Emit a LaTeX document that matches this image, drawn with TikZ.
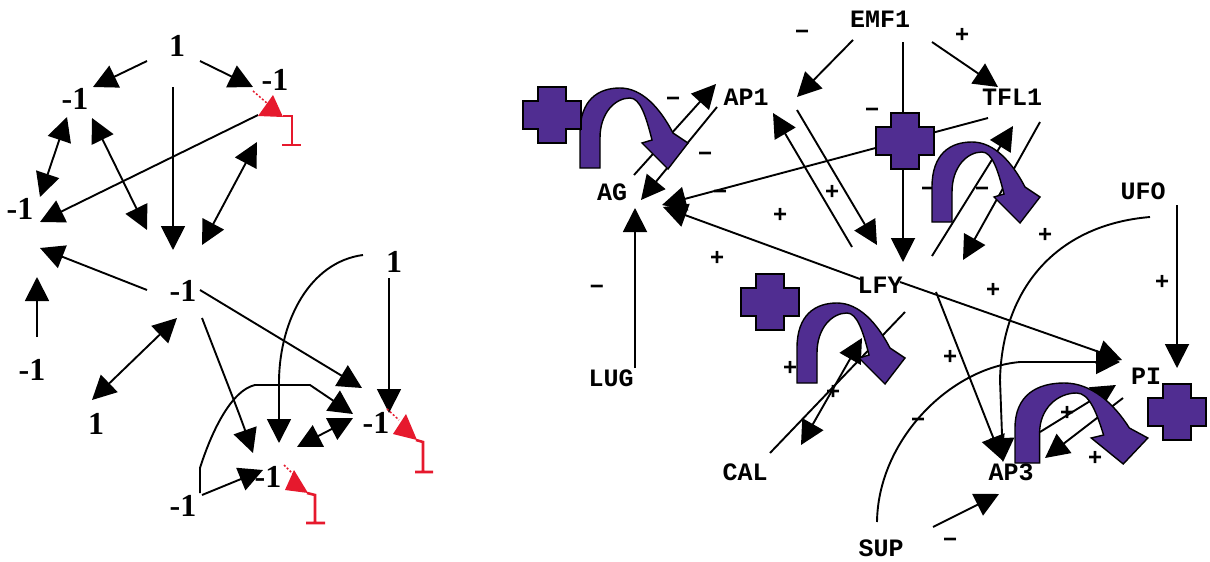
\documentclass[tikz,border=0pt]{standalone}
\usepackage{fontspec}
\setmainfont{Liberation Serif}
\newfontfamily\monof{Liberation Mono}
\newfontfamily\sansf{Liberation Sans}
\usetikzlibrary{arrows.meta}
\definecolor{upurple}{RGB}{80,45,145}
\definecolor{ured}{RGB}{230,25,45}
\tikzset{
  tri/.tip={Triangle[length=24pt,width=24pt]},
  num/.style={font=\fontsize{32}{32}\selectfont\bfseries, inner sep=0pt},
  gene/.style={font=\monof\bfseries\fontsize{25}{25}\selectfont, inner sep=0pt},
  sgn/.style={font=\sansf\bfseries\fontsize{24}{24}\selectfont, inner sep=0pt},
  ln/.style={line width=1.9pt, black},
  ar/.style={ln, -{tri}},
  dar/.style={ln, {tri}-{tri}},
  redpart/.style={ured, line width=2.6pt},
  redlead/.style={ured, line width=1.5pt, dash pattern=on 2pt off 2pt},
  uturn/.pic={
    \filldraw[fill=upurple, draw=black, line width=1.4pt]
      (0,80) -- (0,45) .. controls (0,12) and (18,0) .. (40,0)
      .. controls (62,0) and (80,20) .. (93,45) -- (108,55) -- (88,81)
      -- (62,55) -- (72,52) .. controls (66,28) and (60,10) .. (50,10)
      .. controls (35,10) and (20,25) .. (20,50) -- (20,80) -- cycle;
  },
  uplus/.pic={
    \filldraw[fill=upurple, draw=black, line width=1.4pt]
      (-14,-28) -- (14,-28) -- (14,-14) -- (29,-14) -- (29,14) -- (14,14)
      -- (14,28) -- (-14,28) -- (-14,14) -- (-29,14) -- (-29,-14)
      -- (-14,-14) -- cycle;
  }
}
\begin{document}
\begin{tikzpicture}[x=1pt,y=-1pt]
\fill[white] (0,0) rectangle (1210,562);
\useasboundingbox (0,0) rectangle (1210,562);

% ---------------- left network: labels
\node[num] (Ltop) at (177,46) {1};
\node[num] (LTR) at (275,80) {-1};
\node[num] (LUL) at (75,99) {-1};
\node[num] (LL) at (20,209) {-1};
\node[num] (LC) at (183,291) {-1};
\node[num] (LBL) at (32,370) {-1};
\node[num] (L1b) at (96,424) {1};
\node[num] (LR1) at (394,262) {1};
\node[num] (LRm) at (376,423) {-1};
\node[num] (LBC) at (268,477) {-1};
\node[num] (LBB) at (183,506) {-1};

% endpoints
\coordinate (ca0) at (147,61);  \coordinate (ca1) at (93,87);
\coordinate (cb0) at (200,61);  \coordinate (cb1) at (253,87);
\coordinate (cc0) at (173,87);  \coordinate (cc1) at (173,250);
\coordinate (cd0) at (258,115); \coordinate (cd1) at (40,222);
\coordinate (ce0) at (67,117);  \coordinate (ce1) at (40,197);
\coordinate (cf0) at (92,118);  \coordinate (cf1) at (147,230);
\coordinate (cg0) at (257,142); \coordinate (cg1) at (202,245);
\coordinate (ch0) at (147,290); \coordinate (ch1) at (40,248);
\coordinate (ci0) at (37,337);  \coordinate (ci1) at (37,277);
\coordinate (cj0) at (177,318); \coordinate (cj1) at (92,400);
\coordinate (ck0) at (200,290); \coordinate (ck1) at (362,388);
\coordinate (cl0) at (202,318); \coordinate (cl1) at (253,453);
\coordinate (cm0) at (363,255); \coordinate (cm1) at (279,443);
\coordinate (cn0) at (389,278); \coordinate (cn1) at (389,413);
\coordinate (co0) at (200,493); \coordinate (co1) at (353,414);
\coordinate (cp0) at (353,418); \coordinate (cp1) at (297,447);
\coordinate (cq0) at (202,495); \coordinate (cq1) at (263,470);

\draw[ar] (ca0) -- (ca1);
\draw[ar] (cb0) -- (cb1);
\draw[ar] (cc0) -- (cc1);
\draw[ar] (cd0) -- (cd1);
\draw[dar] (ce0) -- (ce1);
\draw[dar] (cf0) -- (cf1);
\draw[dar] (cg0) -- (cg1);
\draw[ar] (ch0) -- (ch1);
\draw[ar] (ci0) -- (ci1);
\draw[dar] (cj0) -- (cj1);
\draw[ar] (ck0) -- (ck1);
\draw[ar] (cl0) .. controls (222,370) and (238,410) .. (cl1);
\draw[ar] (cm0) .. controls (310,262) and (280,320) .. (279,380) -- (cm1);
\draw[ar] (cn0) -- (cn1);
\draw[ar] (co0) -- (200,468) .. controls (212,430) and (232,390) .. (255,385)
   -- (310,385) -- (co1);
\draw[dar] (cp0) -- (cp1);
\draw[ar] (cq0) -- (cq1);

% red inhibitor marks
\draw[redlead] (253,91) -- (268,104);
\fill[ured] (273,95) -- (258,116) -- (283,117) -- cycle;
\draw[redpart] (283,116) -- (292,116) -- (292,145) (282,145) -- (301,145);
\draw[redlead] (387,409) -- (399,420);
\fill[ured] (406,414) -- (393,434) -- (417,440) -- cycle;
\draw[redpart] (416,440) -- (423,442) -- (423,472) (415,472) -- (433,472);
\draw[redlead] (284,465) -- (293,474);
\fill[ured] (294,470) -- (285,490) -- (308,493) -- cycle;
\draw[redpart] (307,493) -- (315,495) -- (315,523) (306,523) -- (325,523);

% ---------------- right network: labels
\node[gene] (EMF) at (880,19) {EMF1};
\node[gene] (AP1) at (746,97) {AP1};
\node[gene] (TFL) at (1012,97) {TFL1};
\node[gene] (AG) at (612,192) {AG};
\node[gene] (UFO) at (1143,191) {UFO};
\node[gene] (LFY) at (880,285) {LFY};
\node[gene] (LUG) at (611,378) {LUG};
\node[gene] (PI) at (1146,376) {PI};
\node[gene] (CAL) at (745,472) {CAL};
\node[gene] (AP3) at (1011,472) {AP3};
\node[gene] (SUP) at (881,548) {SUP};

\coordinate (r1a) at (853,40);   \coordinate (r1b) at (797,97);
\coordinate (r2a) at (932,42);   \coordinate (r2b) at (998,87);
\coordinate (r3a) at (903,42);   \coordinate (r3b) at (903,262);
\coordinate (r4a) at (852,247);  \coordinate (r4b) at (773,113);
\coordinate (r5a) at (797,110);  \coordinate (r5b) at (877,245);
\coordinate (r6a) at (634,175);  \coordinate (r6b) at (716,84);
\coordinate (r7a) at (717,107);  \coordinate (r7b) at (641,200);
\coordinate (r8a) at (988,118);  \coordinate (r8b) at (662,205);
\coordinate (r9a) at (860,279);  \coordinate (r9b) at (663,207);
\coordinate (r10a) at (635,368); \coordinate (r10b) at (635,208);
\coordinate (r11a) at (900,282); \coordinate (r11b) at (1122,360);
\coordinate (r12a) at (1040,122);\coordinate (r12b) at (963,260);
\coordinate (r13a) at (932,256); \coordinate (r13b) at (1013,126);
\coordinate (r14a) at (1177,205);\coordinate (r14b) at (1177,368);
\coordinate (r15a) at (1150,217);\coordinate (r15b) at (1003,462);
\coordinate (r16a) at (936,292); \coordinate (r16b) at (1002,460);
\coordinate (r17a) at (877,522); \coordinate (r17b) at (1120,362);
\coordinate (r18a) at (933,527); \coordinate (r18b) at (999,494);
\coordinate (r19a) at (770,453); \coordinate (r19b) at (905,312);
\coordinate (r20a) at (862,338); \coordinate (r20b) at (801,445);
\coordinate (r21a) at (1123,398);\coordinate (r21b) at (1045,458);
\coordinate (r22a) at (1040,432);\coordinate (r22b) at (1116,385);

\draw[ar] (r1a) -- (r1b);
\draw[ar] (r2a) -- (r2b);
\draw[ar] (r3a) -- (r3b);
\draw[ar] (r4a) -- (r4b);
\draw[ar] (r5a) -- (r5b);
\draw[ar] (r6a) -- (r6b);
\draw[ar] (r7a) -- (r7b);
\draw[ar] (r8a) -- (r8b);
\draw[ar] (r9a) -- (r9b);
\draw[ar] (r10a) -- (r10b);
\draw[ar] (r11a) -- (r11b);
\draw[ar] (r12a) -- (r12b);
\draw[ar] (r13a) -- (r13b);
\draw[ar] (r14a) -- (r14b);
\draw[ar] (r15a) .. controls (1055,225) and (1002,290) .. (1000,380) -- (r15b);
\draw[ar] (r16a) -- (r16b);
\draw[ar] (r17a) .. controls (878,440) and (950,368) .. (1020,362) -- (r17b);
\draw[ar] (r18a) -- (r18b);
\draw[ln] (r19a) -- (r19b);
\draw[dar] (r20a) -- (r20b);
\draw[ar] (r21a) -- (r21b);
\draw[ar] (r22a) -- (r22b);

% signs
\foreach \p in {(802,35),(673,102),(705,157),(720,195),(872,113),(928,192),
  (982,192),(597,290),(918,423),(950,543)}
  \node[sgn] at \p {−};
\foreach \p in {(962,35),(780,215),(832,192),(717,258),(1045,235),(1162,282),
  (993,290),(790,368),(833,392),(950,357),(1067,413),(1095,458)}
  \node[sgn] at \p {+};

% purple loop symbols
\pic at (580,88) {uturn};
\pic at (932,142) {uturn};
\pic at (797,303) {uturn};
\pic[xscale=1.23] at (1015,383) {uturn};
\pic at (552,115) {uplus};
\pic at (905,141) {uplus};
\pic at (770,302) {uplus};
\pic at (1177,412) {uplus};
\end{tikzpicture}
\end{document}
